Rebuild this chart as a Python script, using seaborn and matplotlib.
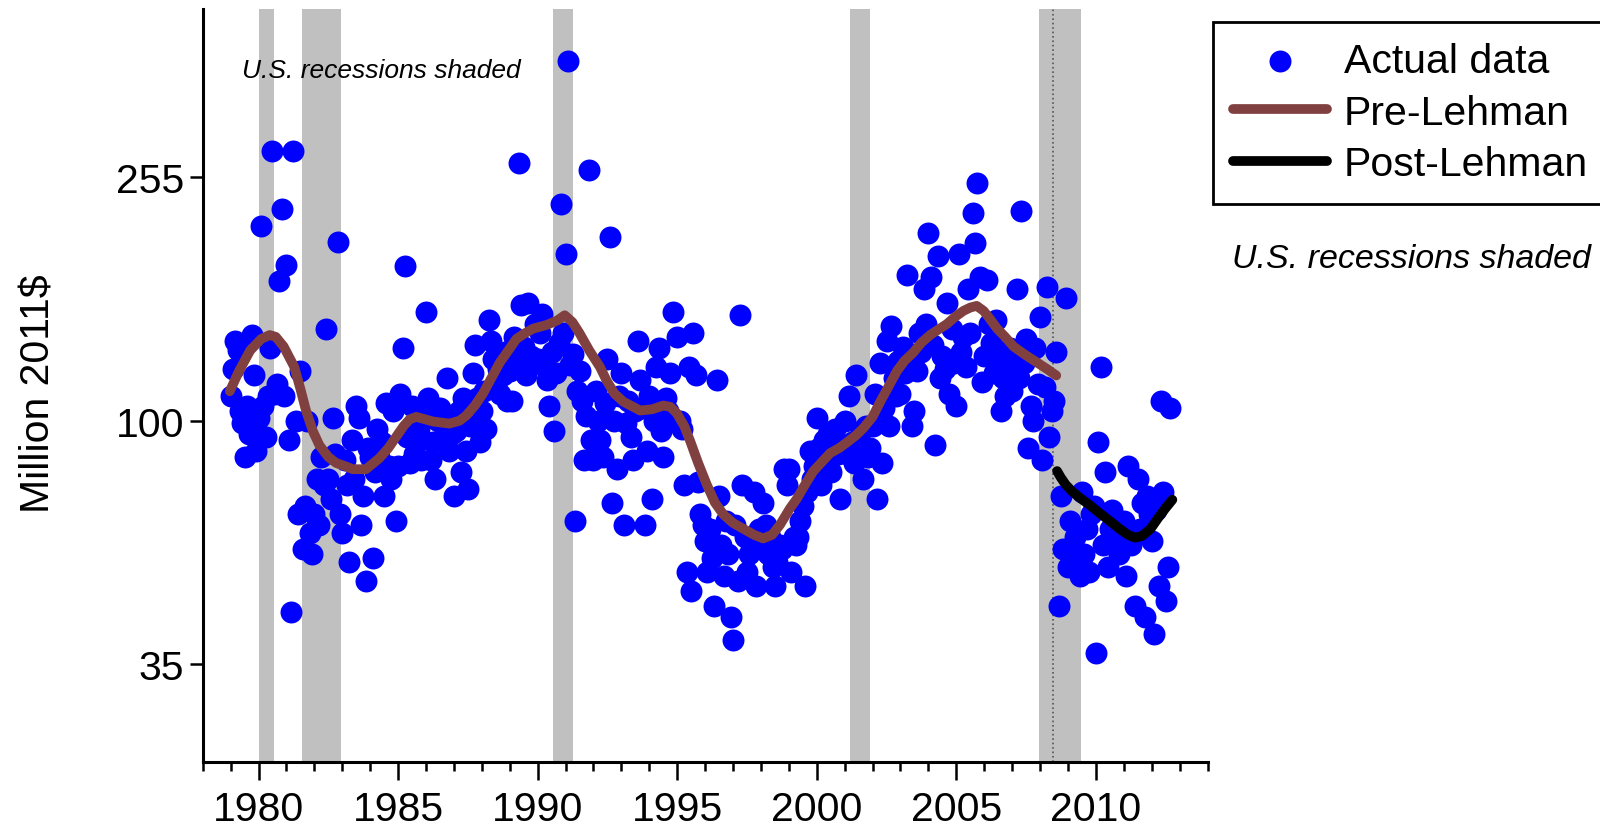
import numpy as np
import pandas as pd
import matplotlib
matplotlib.use("Agg")
import matplotlib.pyplot as plt
from matplotlib.ticker import FixedLocator, NullLocator
import seaborn as sns

# monthly observations (million 2011$), starting Jan 1979
first_year = 1979
actual_values = [
    110, 122, 136, 131, 104, 99, 87, 106, 95, 139, 119, 89,      # 1979
    101, 211, 106, 94, 110, 132, 282, 111, 115, 171, 226, 110,   # 1980
    182, 93, 48, 282, 100, 70, 121, 61, 72, 100, 65, 60,         # 1981
    70, 80, 67, 87, 78, 142, 80, 74, 101, 88, 199, 70,           # 1982
    65, 86, 78, 58, 93, 80, 106, 101, 67, 75, 54, 90,            # 1983
    87, 59, 82, 97, 87, 92, 75, 107, 84, 80, 104, 68,            # 1984
    84, 111, 132, 181, 94, 85, 106, 88, 92, 97, 86, 103,         # 1985
    152, 109, 86, 92, 80, 100, 105, 93, 101, 118, 89, 95,        # 1986
    75, 96, 104, 82, 109, 89, 77, 98, 120, 134, 109, 92,         # 1987
    104, 112, 97, 147, 136, 127, 115, 122, 111, 119, 130, 108,   # 1988
    121, 108, 138, 125, 269, 156, 133, 119, 157, 128, 127, 145,  # 1989
    127, 140, 151, 123, 117, 106, 130, 96, 120, 135, 230, 140,   # 1990
    190, 398, 124, 129, 68, 112, 121, 108, 86, 102, 262, 93,     # 1991
    86, 112, 100, 93, 87, 107, 127, 203, 73, 100, 83, 110,       # 1992
    120, 67, 99, 108, 94, 86, 104, 136, 117, 105, 67, 89,        # 1993
    110, 74, 100, 123, 132, 96, 87, 109, 104, 120, 152, 100,     # 1994
    138, 100, 97, 78, 56, 123, 52, 140, 119, 79, 70, 67,         # 1995
    63, 56, 66, 59, 49, 117, 75, 62, 55, 68, 60, 47,             # 1996
    43, 67, 54, 150, 78, 64, 56, 60, 62, 76, 53, 66,             # 1997
    61, 73, 67, 60, 64, 57, 53, 58, 62, 61, 83, 78,              # 1998
    83, 56, 64, 62, 64, 68, 72, 53, 76, 89, 80, 84,              # 1999
    101, 90, 78, 93, 86, 95, 82, 89, 97, 88, 74, 91,             # 2000
    100, 88, 110, 92, 85, 119, 91, 96, 80, 98, 87, 90,           # 2001
    98, 111, 74, 125, 85, 105, 136, 98, 144, 118, 110, 126,      # 2002
    111, 133, 120, 175, 128, 98, 104, 121, 140, 130, 166, 145,   # 2003
    206, 174, 134, 91, 188, 118, 128, 122, 157, 111, 142, 125,   # 2004
    106, 190, 130, 138, 123, 166, 140, 222, 198, 249, 174, 116,  # 2005
    128, 172, 145, 135, 120, 147, 127, 104, 118, 110, 125, 132,  # 2006
    112, 120, 166, 118, 224, 125, 137, 90, 106, 100, 132, 115,   # 2007
    149, 86, 114, 167, 94, 104, 108, 130, 49, 75, 61, 160,       # 2008
    57, 68, 62, 64, 59, 55, 76, 60, 66, 56, 70, 72,              # 2009
    41, 92, 123, 62, 82, 57, 66, 71, 63, 68, 60, 65,             # 2010
    68, 55, 84, 62, 64, 49, 80, 66, 73, 47, 75, 70,              # 2011
    63, 44, 71, 53, 108, 76, 50, 57, 105,                        # 2012
]

# smoothed trend fitted before Lehman
pre_years = [1978.97, 1979.3, 1979.7, 1980.1, 1980.4, 1980.62, 1980.9, 1981.28, 1981.5,
             1981.7, 1981.95, 1982.18, 1982.5, 1982.78, 1983.1, 1983.37, 1983.85, 1984.33,
             1984.65, 1984.93, 1985.2, 1985.41, 1985.65, 1986.25, 1986.84, 1987.2, 1987.44,
             1987.75, 1988.04, 1988.35, 1988.64, 1988.95, 1989.24, 1989.55, 1989.84, 1990.32,
             1990.7, 1990.97, 1991.25, 1991.5, 1991.85, 1992.23, 1992.47, 1992.75, 1993.07,
             1993.67, 1994.1, 1994.5, 1994.75, 1994.98, 1995.25, 1995.46, 1995.75, 1996.06,
             1996.35, 1996.66, 1997.0, 1997.37, 1997.75, 1998.08, 1998.4, 1998.68, 1999.04,
             1999.28, 1999.6, 1999.88, 2000.2, 2000.48, 2000.8, 2001.08, 2001.4, 2001.67,
             2002.0, 2002.27, 2002.57, 2002.87, 2003.15, 2003.46, 2003.75, 2004.06, 2004.36,
             2004.66, 2004.95, 2005.25, 2005.5, 2005.73, 2005.98, 2006.2, 2006.46, 2006.75,
             2007.05, 2007.45, 2007.9, 2008.25, 2008.58]
pre_values = [112, 121, 131, 137, 139, 138, 133, 123, 113,
              104, 96, 91, 87, 85, 84, 83, 83, 86.6,
              90, 94, 98, 100.5, 101.5, 99.7, 98.9, 100, 102,
              106, 111, 118, 125, 131, 137, 140, 142.5, 144.5,
              147, 150, 146, 140, 131, 123, 116.7, 111, 107.6,
              104, 104.5, 106, 105.5, 103, 98, 92.6, 85, 78.2,
              73, 69.7, 67.5, 66, 64.5, 63.6, 64.5, 67, 71.4,
              74, 78.5, 82.4, 85.5, 88.3, 90, 92, 94.5, 97.2,
              101.5, 107.5, 114, 121, 126, 130, 135, 139, 142,
              145, 149, 152.5, 154.5, 155.5, 152.5, 148, 142.5, 138,
              133, 129, 125, 122, 119]

# trend after Lehman
post_years = [2008.61, 2008.75, 2008.92, 2009.15, 2009.45, 2009.8, 2010.15, 2010.5,
              2010.85, 2011.15, 2011.4, 2011.65, 2011.96, 2012.25, 2012.5, 2012.74]
post_values = [82.4, 80.3, 78.2, 76.2, 74.2, 72.2, 70, 68, 66, 64.5, 63.8, 64.2,
               66, 69, 71.5, 73.8]

recession_start = [1980.0, 1981.55, 1990.55, 2001.2, 2007.95]
recession_end = [1980.55, 1982.95, 1991.25, 2001.9, 2009.45]
lehman_date = 2008.45

ytick_values = [100 / 2.55, 100, 255]
ytick_labels = ["35", "100", "255"]

dates = first_year + np.arange(len(actual_values)) / 12
df = pd.DataFrame({"date": dates, "value": actual_values})
pre_df = pd.DataFrame({"date": pre_years, "value": pre_values})
post_df = pd.DataFrame({"date": post_years, "value": post_values})

sns.set_style("ticks")
plt.rcParams["font.family"] = ["Liberation Sans", "DejaVu Sans"]
plt.rcParams["text.color"] = "black"
plt.rcParams["axes.labelcolor"] = "black"
plt.rcParams["xtick.color"] = "black"
plt.rcParams["ytick.color"] = "black"

fig = plt.figure(figsize=(16, 8.28), dpi=100)
ax = fig.add_axes([0.1267, 0.0781, 0.628, 0.91])

for s, e in zip(recession_start, recession_end):
    ax.axvspan(s, e, color="#c0c0c0", lw=0, zorder=0)
ax.axvline(lehman_date, color="#555555", ls=":", lw=1.2, zorder=1)

sns.scatterplot(data=df, x="date", y="value", ax=ax, color="#0000ff", s=250,
                linewidth=0, label="Actual data", zorder=2)
sns.lineplot(data=pre_df, x="date", y="value", ax=ax, color="#804040", lw=7,
             label="Pre-Lehman", zorder=3)
sns.lineplot(data=post_df, x="date", y="value", ax=ax, color="black", lw=7,
             label="Post-Lehman", zorder=3)

ax.set_yscale("log")
ax.set_ylim(26.9, 487)
ax.yaxis.set_major_locator(FixedLocator(ytick_values))
ax.set_yticklabels(ytick_labels)
ax.yaxis.set_minor_locator(NullLocator())

ax.set_xlim(1978, 2014)
ax.xaxis.set_major_locator(FixedLocator(list(range(1980, 2011, 5))))
ax.xaxis.set_minor_locator(FixedLocator(list(range(1978, 2015))))

sns.despine(ax=ax)
for side in ["left", "bottom"]:
    ax.spines[side].set_linewidth(2.2)
    ax.spines[side].set_color("black")
ax.tick_params(axis="x", which="major", length=13, width=1.8, labelsize=29.5, pad=7)
ax.tick_params(axis="x", which="minor", length=6.5, width=1.8)
ax.tick_params(axis="y", which="major", length=9.5, width=1.8, labelsize=29.5, pad=4)

ax.set_xlabel("")
ax.set_ylabel("Million 2011$", fontsize=29.5)
ax.yaxis.set_label_coords(-0.145, 0.49)

fig.text(241.7 / 1600, 1 - 71 / 828, "U.S. recessions shaded", fontsize=19, style="italic",
         ha="left", va="center")
fig.text(1232 / 1600, 1 - 260 / 828, "U.S. recessions shaded", fontsize=24.5, style="italic",
         ha="left", va="center")

handles, labels = ax.get_legend_handles_labels()
leg = ax.legend(handles, labels, loc="upper left", bbox_to_anchor=(1212.7 / 1600, 1 - 22.7 / 828),
                bbox_transform=fig.transFigure, fontsize=29.5, frameon=True, fancybox=False,
                edgecolor="black", handlelength=2.3, handletextpad=0.4, labelspacing=0.33,
                borderpad=0.5, borderaxespad=0)
leg.get_frame().set_linewidth(2)
leg.get_frame().set_alpha(1)

fig.savefig("out.png", dpi=100)
